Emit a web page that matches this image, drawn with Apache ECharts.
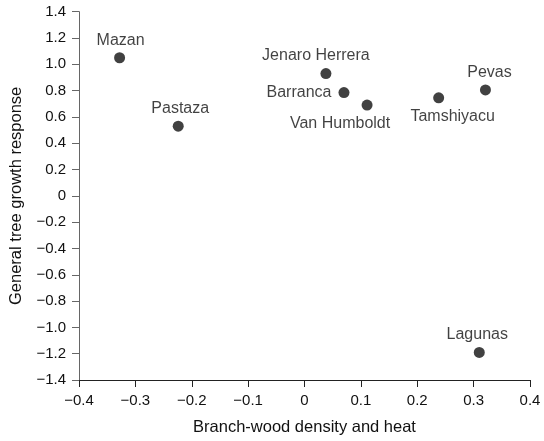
<!DOCTYPE html>
<html><head><meta charset="utf-8">
<script src="https://cdn.jsdelivr.net/npm/echarts@6/dist/echarts.min.js"></script>
<style>html,body{margin:0;padding:0;background:#fff}#c{width:544px;height:441px}</style>
</head><body><div id="c"></div>
<script>
var sites = ["Mazan","Pastaza","Jenaro Herrera","Barranca","Van Humboldt","Tamshiyacu","Pevas","Lagunas"];
var xValues = [-0.328, -0.224, 0.038, 0.070, 0.111, 0.238, 0.321, 0.310];
var yValues = [1.05, 0.53, 0.93, 0.785, 0.69, 0.745, 0.805, -1.19];

// label layout (styling only)
var labelLayout = {
  "Mazan":{position:"top", distance:4, offset:[1,0]},
  "Pastaza":{position:"top", distance:4, offset:[2,0]},
  "Jenaro Herrera":{position:"top", distance:4, offset:[-10,0]},
  "Barranca":{position:"left", distance:7, offset:[0,0]},
  "Van Humboldt":{position:"bottom", distance:5, offset:[-27,0]},
  "Tamshiyacu":{position:"bottom", distance:5, offset:[14,0]},
  "Pevas":{position:"top", distance:4, offset:[4,0]},
  "Lagunas":{position:"top", distance:4, offset:[-2,0]}
};

var data = sites.map(function(s,i){
  return {value:[xValues[i], yValues[i]], name:s, label:labelLayout[s]};
});
var chart = echarts.init(document.getElementById('c'));
var font = "Liberation Sans, Arial, sans-serif";
function fmt(v){ var r=Math.round(v*10)/10; return r===0?'0':(r<0?'\u2212'+Math.abs(r).toFixed(1):r.toFixed(1)); }
chart.setOption({
  animation:false,
  grid:{left:79, right:14, top:11.7, bottom:58.3},
  xAxis:{type:'value', min:-0.4, max:0.4, interval:0.1,
    name:'Branch-wood density and heat', nameLocation:'middle', nameGap:39,
    nameTextStyle:{color:'#111', fontSize:16.5, fontFamily:font},
    axisLine:{onZero:false, lineStyle:{color:'#222', width:1}},
    axisTick:{lineStyle:{color:'#222'}, length:7},
    axisLabel:{color:'#111', fontSize:15, fontFamily:font, margin:13, formatter:fmt},
    splitLine:{show:false}},
  yAxis:{type:'value', min:-1.4, max:1.4, interval:0.2,
    name:'General tree growth response', nameLocation:'middle', nameGap:54,
    nameTextStyle:{color:'#111', fontSize:16.5, fontFamily:font},
    axisLine:{show:true, onZero:false, lineStyle:{color:'#666', width:1}},
    axisTick:{show:true, lineStyle:{color:'#666'}, length:7},
    axisLabel:{color:'#111', fontSize:15, fontFamily:font, margin:13, formatter:fmt},
    splitLine:{show:false}},
  series:[{type:'scatter', symbolSize:11, itemStyle:{color:'#111'},
    label:{show:true, formatter:'{b}', color:'#111', fontSize:16, fontFamily:font},
    data:data}]
});
</script></body></html>
